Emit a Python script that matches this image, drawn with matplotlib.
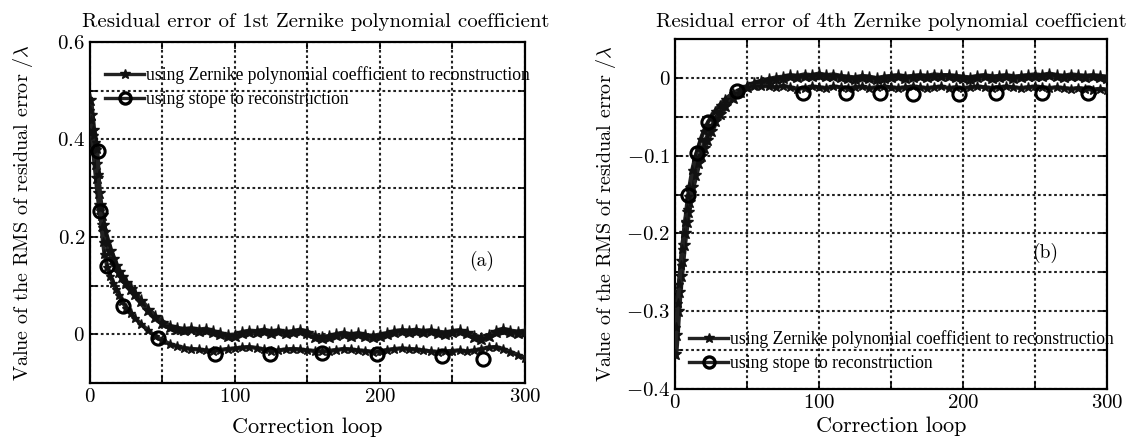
import matplotlib
matplotlib.use('Agg')
import matplotlib.pyplot as plt
from matplotlib.lines import Line2D

# serif, Computer-Modern look
plt.rcParams['font.family'] = 'serif'
plt.rcParams['font.serif'] = ['cmr10', 'DejaVu Serif']
plt.rcParams['mathtext.fontset'] = 'cm'
plt.rcParams['axes.formatter.use_mathtext'] = True
plt.rcParams['axes.unicode_minus'] = False

# correction loop samples shared by all curves
loops = [0, 1, 2, 3, 4, 5, 6, 7, 8, 9, 10, 12, 14, 16, 18, 20, 22, 25, 28, 31,
         35, 40, 45, 50, 55, 60, 65, 70, 75, 80, 85, 90, 95, 100, 105, 110, 115,
         120, 125, 130, 135, 140, 145, 150, 155, 160, 165, 170, 175, 180, 185,
         190, 195, 200, 205, 210, 215, 220, 225, 230, 235, 240, 245, 250, 255,
         260, 265, 270, 275, 280, 285, 290, 295, 300]

# (a) 1st Zernike coefficient
a_zernike = [0.48, 0.45, 0.42, 0.38, 0.35, 0.32, 0.29, 0.265, 0.245, 0.225, 0.21,
             0.19, 0.17, 0.155, 0.14, 0.128, 0.118, 0.105, 0.093, 0.082,
             0.068, 0.05, 0.035, 0.024, 0.015, 0.011, 0.008, 0.01, 0.007, 0.009,
             0.004, 0.0, -0.004, -0.003, 0.002, 0.005, 0.004, 0.007, 0.003, 0.006,
             0.002, 0.004, 0.007, 0.003, -0.005, -0.008, -0.006, -0.002, 0.001,
             -0.003, 0.0, -0.004, -0.006, -0.003, 0.0, 0.004, 0.006, 0.005, 0.007,
             0.004, 0.006, 0.003, 0.001, 0.004, 0.006, 0.002, -0.005, -0.009,
             -0.004, 0.004, 0.009, 0.005, 0.003, 0.005]
a_stope = [0.46, 0.44, 0.42, 0.41, 0.395, 0.38, 0.33, 0.26, 0.22, 0.19, 0.165,
           0.138, 0.12, 0.105, 0.092, 0.08, 0.068, 0.055, 0.044, 0.033,
           0.022, 0.008, -0.004, -0.012, -0.02, -0.024, -0.028, -0.03, -0.031,
           -0.033, -0.034, -0.032, -0.03, -0.029, -0.027, -0.026, -0.028, -0.031,
           -0.034, -0.033, -0.031, -0.03, -0.031, -0.033, -0.034, -0.035, -0.034,
           -0.032, -0.03, -0.031, -0.033, -0.034, -0.036, -0.035, -0.032, -0.03,
           -0.029, -0.03, -0.031, -0.033, -0.035, -0.036, -0.035, -0.034, -0.033,
           -0.035, -0.033, -0.03, -0.027, -0.026, -0.03, -0.036, -0.042, -0.048]
a_circle_x = [5.5, 7, 11.5, 23, 47, 86, 124, 160, 198, 243, 271]
a_circle_y = [0.377, 0.254, 0.14, 0.058, -0.008, -0.04, -0.041, -0.038, -0.041,
              -0.045, -0.051]

# (b) 4th Zernike coefficient
b_zernike = [-0.355, -0.33, -0.3, -0.275, -0.255, -0.235, -0.215, -0.2, -0.185,
             -0.172, -0.16, -0.14, -0.125, -0.11, -0.1, -0.09, -0.08, -0.068,
             -0.056, -0.047, -0.036, -0.026, -0.018, -0.012, -0.008, -0.005,
             -0.003, -0.001, 0.0, 0.002, 0.001, 0.003, 0.002, 0.004, 0.002, 0.003,
             0.001, 0.0, -0.001, 0.001, 0.0, -0.002, 0.0, 0.001, 0.002, 0.0, 0.001,
             0.002, 0.001, 0.003, 0.002, 0.002, 0.001, 0.0, -0.001, 0.001, 0.002,
             0.0, 0.001, 0.002, 0.0, 0.001, 0.002, 0.003, 0.002, 0.004, 0.002,
             0.001, 0.003, 0.002, 0.001, 0.002, 0.001, 0.0]
b_stope = [-0.355, -0.32, -0.29, -0.265, -0.24, -0.22, -0.2, -0.185, -0.168,
           -0.152, -0.14, -0.118, -0.102, -0.09, -0.078, -0.068, -0.06, -0.05,
           -0.042, -0.035, -0.027, -0.02, -0.015, -0.012, -0.011, -0.01, -0.011,
           -0.012, -0.01, -0.012, -0.014, -0.013, -0.011, -0.012, -0.013, -0.011,
           -0.012, -0.013, -0.012, -0.011, -0.013, -0.012, -0.011, -0.012, -0.013,
           -0.012, -0.011, -0.012, -0.013, -0.012, -0.011, -0.013, -0.012, -0.013,
           -0.012, -0.011, -0.012, -0.013, -0.012, -0.011, -0.012, -0.013, -0.012,
           -0.011, -0.012, -0.013, -0.012, -0.013, -0.014, -0.013, -0.014, -0.015,
           -0.014, -0.015]
b_circle_x = [9, 15, 23, 43, 89, 119, 142, 165, 197, 223, 255, 287]
b_circle_y = [-0.15, -0.097, -0.057, -0.017, -0.02, -0.02, -0.02, -0.021, -0.021,
              -0.02, -0.019, -0.019]

titles = ['Residual error of 1st Zernike polynomial coefficient',
          'Residual error of 4th Zernike polynomial coefficient']
legend_labels = ['using Zernike polynomial coefficient to reconstruction',
                 'using stope to reconstruction']

line_col = '#222222'

fig = plt.figure(figsize=(11.26, 4.43), dpi=100)
ax1 = fig.add_axes([0.0799, 0.1354, 0.3863, 0.7698])
ax2 = fig.add_axes([0.5995, 0.1219, 0.3837, 0.790])


def draw(ax, zern, stope, cx, cy):
    ax.plot(loops, zern, color=line_col, lw=4.8, marker='*', ms=9.5,
            mec='#111111', mfc='#111111', zorder=3)
    ax.plot(loops, stope, color=line_col, lw=3.0, marker='*', ms=6.5,
            mec='#111111', mfc='#111111', zorder=3)
    ax.plot(cx, cy, ls='none', marker='o', ms=9.5, mfc='none', mec='black',
            mew=2.2, zorder=4)


draw(ax1, a_zernike, a_stope, a_circle_x, a_circle_y)
draw(ax2, b_zernike, b_stope, b_circle_x, b_circle_y)

# axes (a)
ax1.set_xlim(0, 300)
ax1.set_ylim(-0.1, 0.6)
ax1.set_yticks([0, 0.2, 0.4, 0.6])
ax1.set_yticklabels(['$0$', '$0.2$', '$0.4$', '$0.6$'])
ax1.set_yticks([-0.1, 0.1, 0.3, 0.5], minor=True)
ax1.text(270, 0.15, '(a)', fontsize=14, ha='center', va='center')

# axes (b)
ax2.set_xlim(0, 300)
ax2.set_ylim(-0.4, 0.05)
ax2.set_yticks([-0.4, -0.3, -0.2, -0.1, 0])
ax2.set_yticklabels(['$-0.4$', '$-0.3$', '$-0.2$', '$-0.1$', '$0$'])
ax2.set_yticks([-0.35, -0.25, -0.15, -0.05], minor=True)
ax2.text(257, -0.2245, '(b)', fontsize=14, ha='center', va='center')

for ax, title, tpad, tx, ypad, xpad in zip([ax1, ax2], titles, [11, 9],
                                           [0.52, 0.5], [16, 6], [8, 3]):
    ax.set_xticks([0, 100, 200, 300])
    ax.set_xticklabels(['$0$', '$100$', '$200$', '$300$'])
    ax.set_xticks([50, 150, 250], minor=True)
    ax.grid(True, which='both', color='#222222', ls=(0, (1.3, 1.3)), lw=1.5)
    ax.tick_params(which='both', direction='in', top=True, right=True,
                   labelsize=15, length=5, width=1.2)
    for s in ax.spines.values():
        s.set_linewidth(1.6)
    ax.set_title(title, fontsize=15, pad=tpad, x=tx)
    ax.set_xlabel('Correction loop', fontsize=16, labelpad=xpad)
    ax.set_ylabel(r'Value of the RMS of residual error /$\lambda$', fontsize=14.5,
                  labelpad=ypad)

handles = [Line2D([], [], color=line_col, lw=2.4, marker='*', ms=7,
                  mec='#111111', mfc='#111111'),
           Line2D([], [], color=line_col, lw=2.4, marker='o', ms=8,
                  mfc='none', mec='black', mew=2.4)]

for ax, anchor in [(ax1, (0.035, 0.93)), (ax2, (0.033, 0.168))]:
    ax.legend(handles, legend_labels, loc='upper left', bbox_to_anchor=anchor,
              frameon=False, numpoints=1, handlelength=2.2, handletextpad=0.1,
              labelspacing=0.4, borderpad=0, borderaxespad=0,
              prop={'family': 'Liberation Serif', 'size': 12.7})

fig.savefig('out.png', dpi=100)
